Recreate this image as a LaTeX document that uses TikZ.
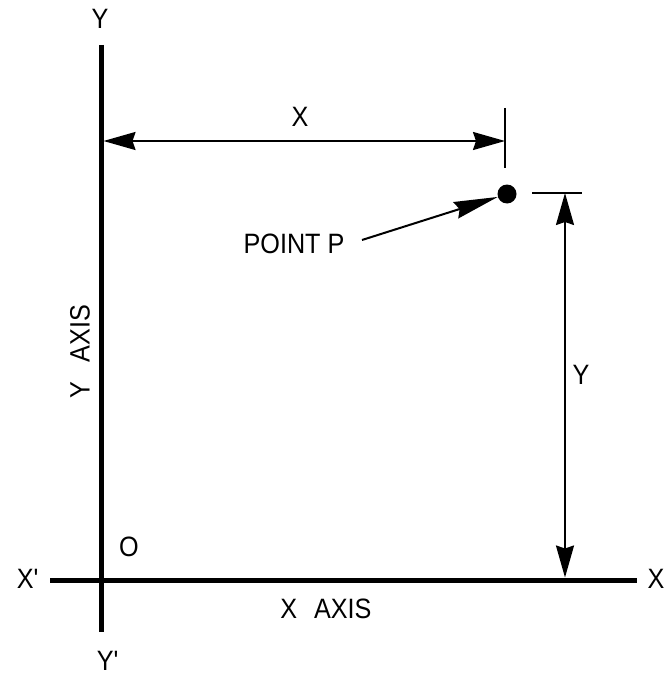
\documentclass[tikz,border=0pt]{standalone}
\usepackage{fontspec}
\setmainfont{Liberation Sans}[FakeStretch=0.9]
\usetikzlibrary{arrows.meta}
\begin{document}
\begin{tikzpicture}[x=1pt,y=-1pt,
  >={Stealth[length=32pt,width=18pt,inset=3pt]},
  leadtip/.style={-{Stealth[length=44pt,width=17pt,inset=4pt]}},
  axis/.style={line width=5pt},
  dim/.style={line width=2pt},
  lbl/.style={font=\fontsize{28}{28}\selectfont, inner sep=0pt}]
\useasboundingbox (0,0) rectangle (667,687);
% axes
\coordinate (ytop) at (101,45);
\coordinate (ybot) at (101,632);
\coordinate (xl) at (50,580);
\coordinate (xr) at (637,580);
\draw[axis] (ytop) -- (ybot);
\draw[axis] (xl) -- (xr);
% axis labels
\node[lbl] (Ylab) at (100,19) {Y};
\node[lbl] (Yplab) at (108,661) {Y\textquotesingle};
\node[lbl] (Xplab) at (28,579) {X\textquotesingle};
\node[lbl] (Xlab) at (656,579) {X};
\node[lbl] (Olab) at (129,547) {O};
\node[lbl] (xaxis) at (326,609) {X\hspace{0.6em}AXIS};
\node[lbl, rotate=90] (yaxis) at (80,352) {Y\hspace{0.7em}AXIS};
% point P
\node[circle, fill, minimum size=19pt, inner sep=0pt] (P) at (507,194) {};
\node[lbl] (plab) at (294,244) {POINT P};
\coordinate (lead) at (362,240);
\draw[dim, leadtip] (lead) -- (P);
% top dimension (X)
\coordinate (t1a) at (505,108);
\coordinate (t1b) at (505,168);
\draw[dim] (t1a) -- (t1b);
\coordinate (da) at (103.5,141);
\coordinate (db) at (505,141);
\draw[dim, <->] (da) -- (db);
\node[lbl] (xdim) at (300,117) {X};
% right dimension (Y)
\coordinate (t2a) at (532,193);
\coordinate (t2b) at (582,193);
\draw[dim] (t2a) -- (t2b);
\coordinate (ea) at (565,193);
\coordinate (eb) at (565,577.5);
\draw[dim, <->] (ea) -- (eb);
\node[lbl] (ydim) at (581,375) {Y};
\end{tikzpicture}
\end{document}
